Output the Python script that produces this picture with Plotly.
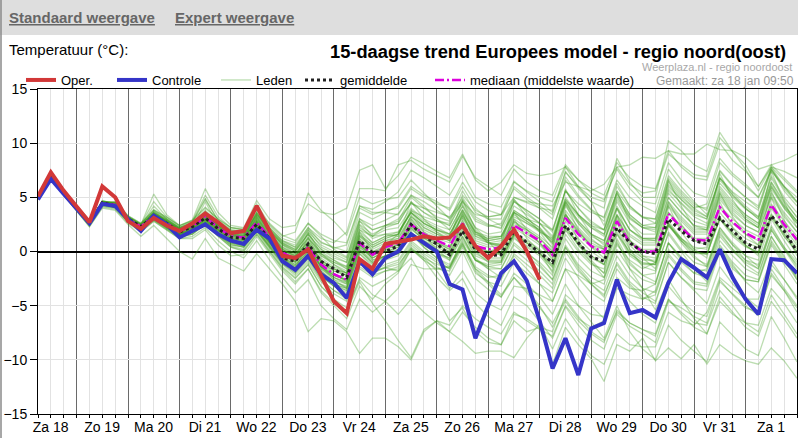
import pandas as pd
import plotly.graph_objects as go

# ---------------- data ----------------
tijden = pd.date_range("2025-01-18 06:00", periods=60, freq="6h")
dag_grenzen = pd.date_range("2025-01-19", "2025-02-02", freq="D")
dag_labels = ["Za 18", "Zo 19", "Ma 20", "Di 21", "Wo 22", "Do 23", "Vr 24", "Za 25",
              "Zo 26", "Ma 27", "Di 28", "Wo 29", "Do 30", "Vr 31", "Za 1"]
y_ticks = [-15, -10, -5, 0, 5, 10, 15]

oper = [5.1, 7.3, 5.6, 4.1, 2.7, 6.0, 5.0, 2.8, 2.1, 3.1, 2.4, 1.9, 2.6, 3.5, 2.7, 1.7,
        1.9, 4.2, 1.9, -0.4, -0.6, 0.2, -2.2, -4.6, -5.7, -0.7, -1.6, 0.7, 0.9, 1.1,
        1.4, 1.2, 1.3, 2.4, 0.5, -0.6, 0.5, 2.0, 0.0, -2.6]

controle = [4.8, 6.7, 5.3, 4.0, 2.6, 4.4, 4.2, 3.0, 1.9, 3.3, 2.5, 1.3, 1.9, 2.5, 1.6, 1.0,
            0.7, 2.0, 1.2, -0.9, -1.7, -0.4, -2.1, -2.9, -4.3, -0.9, -2.1, -0.6, 0.0, 1.6,
            0.8, 0.0, -3.0, -3.5, -8.0, -4.9, -2.0, -0.9, -2.7, -6.4, -10.8, -8.0, -11.4, -7.1,
            -6.6, -2.6, -5.7, -5.4, -6.1, -2.9, -0.7, -1.5, -2.4, 0.2, -2.4, -4.4, -5.8, -0.7,
            -0.8, -2.0]

gemiddelde = [5.0, 7.0, 5.4, 4.0, 2.6, 4.5, 4.2, 3.0, 2.3, 3.2, 2.6, 1.8, 2.3, 3.1, 2.1, 1.3,
              1.2, 2.5, 1.2, -0.6, -0.9, 0.7, -0.9, -1.6, -2.4, 1.0, -0.1, 0.0, 0.5, 2.5,
              1.4, 0.7, -0.3, 1.9, 0.2, -0.4, -0.3, 1.9, 0.8, -0.1, -1.0, 2.4, 0.8, -0.5,
              -0.9, 2.2, 0.8, 0.0, -0.2, 3.0, 1.9, 1.0, 0.7, 3.1, 1.9, 0.8, 0.2, 3.3, 1.9, 0.0]

mediaan = [5.0, 7.0, 5.4, 4.0, 2.6, 4.5, 4.3, 3.0, 2.3, 3.3, 2.6, 1.9, 2.3, 3.2, 2.2, 1.4,
           1.3, 2.7, 1.3, -0.1, -0.7, 0.4, -1.2, -2.1, -2.6, 0.8, -0.3, 0.4, 0.8, 2.5,
           1.6, 1.0, 0.5, 2.6, 0.5, 0.2, 0.4, 2.4, 1.7, 1.0, -0.3, 3.1, 1.6, 0.5,
           -0.1, 2.8, 0.8, 0.0, 0.0, 3.5, 2.2, 1.1, 1.0, 4.1, 2.7, 1.7, 1.1, 4.3, 2.5, 1.1]

leden = [
    [5.1, 7.2, 5.5, 4.1, 2.8, 4.3, 4.6, 3.3, 2.6, 3.9, 3.1, 2.4, 2.9, 4.1, 3.0, 2.2, 2.1, 3.9, 2.6, 1.5,
     1.0, 2.6, 1.4, 0.2, -0.5, 3.0, 2.4, 2.9, 3.5, 5.2, 4.6, 3.8, 3.1, 5.0, 3.2, 2.5, 2.1, 4.6, 3.8, 3.0,
     2.0, 5.6, 4.0, 2.6, 2.0, 5.2, 3.1, 2.2, 1.8, 5.6, 4.5, 3.4, 3.0, 6.3, 5.0, 3.9, 3.2, 6.8, 4.8, 3.1],
    [4.9, 6.9, 5.3, 3.9, 2.5, 4.2, 4.0, 2.8, 2.0, 3.0, 2.3, 1.4, 1.6, 2.6, 1.5, 0.8, 0.5, 2.0, 0.6, -0.9,
     -1.8, -0.6, -2.3, -3.2, -4.0, -0.8, -2.0, -1.5, -1.2, 0.3, -0.8, -2.4, -3.6, -2.5, -4.8, -6.0, -6.8, -4.2, -5.0, -6.5,
     -8.0, -5.1, -6.8, -8.2, -9.0, -5.8, -6.9, -7.6, -8.4, -4.6, -5.2, -6.0, -6.6, -2.8, -3.9, -5.0, -5.9, -2.0, -3.6, -5.2],
    [5.0, 7.0, 5.4, 4.0, 2.4, 4.4, 4.1, 2.8, 2.0, 3.1, 2.4, 1.5, 1.9, 2.8, 1.8, 0.9, 0.6, 2.2, 0.8, -0.6,
     -1.3, 0.0, -1.8, -2.8, -3.3, 0.1, -1.1, -0.6, -0.2, 1.6, 0.6, -0.1, -0.6, 1.8, -0.4, -0.9, -0.9, 1.6, 0.8, 0.1,
     -1.3, 2.4, 0.7, -0.4, -1.2, 2.1, -0.2, -1.1, -1.2, 2.8, 1.2, 0.0, -0.3, 3.2, 1.6, 0.5, -0.1, 3.5, 1.4, -0.1],
    [5.2, 7.1, 5.6, 4.2, 2.9, 4.6, 4.5, 3.2, 2.5, 4.6, 3.2, 2.3, 2.8, 5.2, 3.2, 2.2, 2.0, 3.6, 2.2, 1.0,
     0.4, 2.0, 0.9, 0.3, 0.6, 4.2, 3.9, 4.6, 5.5, 7.5, 6.8, 6.0, 5.2, 7.2, 5.0, 4.4, 4.1, 6.5, 5.5, 4.6,
     3.6, 6.9, 5.2, 3.9, 3.1, 6.3, 4.2, 3.1, 3.0, 6.8, 5.4, 4.2, 4.0, 7.5, 6.1, 5.0, 4.2, 7.8, 6.0, 4.6],
    [4.8, 6.8, 5.2, 3.8, 2.3, 4.1, 3.9, 2.6, 1.8, 2.8, 2.0, 1.2, 1.2, 2.0, 0.6, -0.4, -0.3, 1.4, -0.2, -1.8,
     -3.0, -1.6, -3.8, -5.0, -6.2, -3.2, -4.4, -3.0, -2.0, 0.2, -0.6, -1.2, -1.5, 1.2, -0.8, -1.2, -1.0, 1.5, 0.5, -0.2,
     -1.5, 2.0, 0.2, -1.0, -2.0, 1.2, -1.0, -2.2, -2.8, 0.8, -0.5, -1.6, -2.2, 1.4, 0.0, -1.0, -1.6, 2.0, 0.2, -1.2],
    [5.0, 7.1, 5.4, 4.1, 2.7, 4.5, 4.4, 3.1, 2.4, 3.5, 2.8, 2.1, 2.6, 3.6, 2.6, 1.8, 1.7, 3.2, 1.9, 0.7,
     0.1, 1.6, 0.2, -0.6, -1.0, 2.5, 1.6, 2.2, 2.6, 4.5, 3.6, 3.0, 2.4, 4.6, 2.8, 2.3, 2.6, 5.0, 4.5, 4.0,
     3.8, 7.3, 6.0, 5.0, 4.6, 7.8, 6.2, 5.4, 5.6, 9.0, 8.0, 7.1, 6.9, 10.5, 9.2, 8.0, 6.0, 7.8, 7.4, 6.8],
    [4.9, 6.9, 5.3, 3.9, 2.5, 4.3, 4.1, 2.9, 2.1, 3.0, 2.2, 1.5, 1.8, 2.6, 1.5, 0.6, 0.4, 1.9, 0.3, -1.2,
     -2.2, -1.0, -2.8, -3.9, -4.6, -1.6, -2.4, -1.8, -1.4, 0.6, -0.4, -1.4, -2.2, 0.0, -2.5, -3.5, -4.2, -2.0, -3.0, -4.2,
     -5.8, -3.0, -5.0, -6.5, -8.0, -5.0, -7.4, -9.0, -10.0, -6.8, -8.2, -9.2, -10.2, -6.5, -7.8, -9.0, -9.6, -6.0, -8.0, -10.2],
    [5.1, 7.0, 5.4, 4.0, 2.6, 4.7, 4.3, 2.9, 2.2, 3.5, 2.6, 1.7, 2.1, 3.6, 2.2, 1.2, 1.0, 3.2, 1.3, -0.3,
     -1.0, 1.3, -1.0, -2.0, -2.8, 1.8, 0.0, 0.4, 0.6, 3.4, 1.8, 0.8, 0.2, 3.6, 0.6, -0.2, -0.2, 3.6, 2.0, 0.8,
     -0.8, 4.4, 2.0, 0.4, -0.6, 4.0, 1.1, -0.4, -0.6, 4.6, 2.5, 1.0, 0.6, 5.4, 3.2, 1.6, 0.6, 5.6, 2.9, 0.8],
    [5.0, 7.1, 5.5, 4.1, 2.7, 4.4, 4.3, 3.0, 2.4, 4.2, 3.0, 2.2, 2.7, 4.9, 2.8, 2.0, 1.9, 4.4, 2.5, 1.4,
     1.8, 5.4, 3.8, 2.8, 1.5, 5.0, 4.4, 4.8, 5.0, 6.6, 5.4, 4.2, 3.0, 4.4, 2.2, 1.0, -0.5, 1.4, 0.0, -1.2,
     -2.6, 0.4, -1.6, -3.0, -4.0, -1.2, -3.0, -4.2, -4.8, -1.0, -2.4, -3.4, -3.6, 0.0, -1.6, -2.6, -2.8, 0.8, -1.0, -2.2],
    [5.1, 7.1, 5.5, 4.0, 2.6, 4.5, 4.2, 3.0, 2.3, 3.4, 2.7, 2.0, 2.4, 3.4, 2.4, 1.6, 1.5, 3.0, 1.6, 0.3,
     -0.4, 0.8, -0.8, -1.6, -2.0, 1.5, 0.6, 1.2, 1.6, 3.8, 2.8, 2.2, 1.6, 3.9, 1.8, 1.4, 1.4, 3.8, 3.0, 2.2,
     1.0, 4.6, 3.2, 2.2, 1.6, 4.8, 3.0, 2.2, 2.2, 6.0, 4.8, 3.8, 3.2, 6.8, 5.5, 4.6, 3.8, 7.6, 5.8, 4.5],
    [4.9, 6.9, 5.3, 3.9, 2.5, 4.4, 4.2, 2.9, 2.2, 3.1, 2.4, 1.6, 2.0, 3.0, 1.9, 1.0, 0.8, 2.3, 0.9, -0.5,
     -1.4, -0.2, -2.0, -3.0, -3.6, -0.8, -1.8, -1.5, -1.8, -0.6, -2.6, -4.2, -6.4, -5.2, -7.4, -8.4, -8.6, -5.8, -6.2, -7.0,
     -7.4, -4.0, -5.0, -5.8, -6.0, -2.4, -3.4, -3.6, -3.0, 0.8, -0.6, -1.6, -1.8, 1.6, 0.2, -0.8, -1.2, 2.2, 0.4, -1.0],
    [5.0, 6.9, 5.3, 4.0, 2.6, 4.5, 4.2, 2.9, 2.3, 3.3, 2.6, 1.9, 2.3, 3.3, 2.3, 1.5, 1.3, 2.6, 1.2, -0.2,
     -0.8, 0.4, -1.4, -2.4, -2.9, 0.6, -0.4, 0.6, 1.6, 3.8, 3.2, 2.8, 2.6, 5.2, 3.8, 3.2, 3.4, 6.4, 5.6, 5.0,
     4.6, 7.8, 6.6, 5.8, 5.2, 8.2, 6.8, 6.0, 5.8, 9.3, 7.8, 6.8, 6.6, 10.0, 8.4, 7.4, 6.0, 8.0, 6.8, 5.6],
    [5.0, 7.0, 5.4, 4.0, 2.6, 4.5, 4.3, 3.0, 2.3, 3.2, 2.5, 1.8, 2.2, 3.0, 2.0, 1.2, 1.0, 2.4, 1.0, -0.4,
     -1.0, 0.2, -1.4, -2.2, -2.6, 0.4, -0.6, 0.0, 0.4, 2.0, 1.2, 0.6, 0.0, 1.8, 0.2, -0.4, -0.2, 1.6, 1.0, 0.2,
     -1.0, 2.0, 0.8, -0.4, -1.2, 1.6, 0.0, -0.8, -0.8, 2.4, 1.2, 0.4, 0.2, 3.0, 1.8, 0.8, 0.4, 3.2, 1.6, 0.4],
    [5.0, 6.9, 5.4, 4.0, 2.5, 4.4, 4.1, 2.8, 2.0, 2.9, 2.1, 1.3, 1.6, 2.5, 1.4, 0.4, 0.0, 1.6, 0.0, -1.5,
     -2.5, -1.2, -3.2, -4.4, -5.2, -2.6, -4.0, -4.6, -5.8, -4.4, -5.6, -6.6, -7.4, -5.6, -7.0, -8.0, -8.6, -6.4, -7.4, -7.0,
     -10.4, -7.0, -8.6, -9.9, -12.0, -8.6, -9.2, -8.0, -10.1, -8.9, -9.9, -8.6, -10.4, -8.6, -9.5, -10.1, -10.4, -8.9, -10.1, -11.7],
    [5.1, 7.0, 5.5, 4.1, 2.7, 4.6, 4.4, 3.1, 2.4, 3.5, 2.8, 2.0, 2.5, 3.6, 2.5, 1.7, 1.6, 3.4, 1.9, 0.6,
     0.0, 1.6, -0.2, -1.0, -1.4, 2.4, 1.2, 1.6, 1.8, 3.6, 2.6, 2.0, 1.4, 3.8, 1.6, 1.0, 1.2, 3.6, 2.8, 1.9,
     0.8, 4.6, 2.8, 1.6, 1.0, 4.2, 2.0, 1.2, 1.2, 5.0, 3.6, 2.4, 2.2, 5.6, 4.2, 3.2, 2.4, 6.0, 4.0, 2.6],
    [5.0, 7.0, 5.4, 4.0, 2.6, 4.4, 4.3, 3.0, 2.4, 3.6, 2.9, 2.1, 2.5, 3.6, 2.6, 1.8, 1.8, 3.4, 2.2, 1.0,
     0.6, 2.2, 1.2, 0.8, 1.8, 5.8, 5.8, 5.6, 8.0, 8.4, 7.6, 7.0, 6.4, 8.8, 6.8, 6.0, 5.2, 7.6, 6.4, 5.6,
     5.2, 8.0, 6.6, 5.4, 4.8, 7.6, 5.8, 4.6, 4.4, 8.2, 6.6, 5.4, 5.0, 8.6, 7.2, 6.2, 5.0, 7.4, 6.0, 5.0],
    [5.1, 7.1, 5.5, 4.1, 2.8, 4.6, 4.5, 3.2, 2.5, 5.3, 3.4, 2.4, 2.9, 5.8, 3.6, 2.4, 2.2, 4.7, 3.0, 2.2,
     2.4, 4.4, 3.6, 3.4, 4.0, 7.5, 8.0, 5.8, 7.0, 8.7, 8.1, 7.4, 6.8, 9.0, 6.6, 5.6, 6.4, 8.0, 7.2, 7.0,
     7.2, 7.8, 6.0, 4.6, 2.4, 5.4, 3.4, 2.4, 2.6, 6.4, 5.0, 4.0, 4.4, 8.2, 7.0, 6.0, 5.0, 7.6, 6.0, 4.6],
    [4.9, 6.9, 5.3, 3.9, 2.5, 4.4, 4.2, 2.9, 2.1, 3.1, 2.3, 1.6, 2.0, 2.9, 1.8, 1.0, 0.8, 2.2, 0.8, -0.6,
     -1.6, -0.4, -2.2, -3.2, -3.8, -0.8, -1.8, -1.2, -0.8, 1.0, 0.0, -0.8, -1.6, 0.8, -1.4, -2.2, -2.6, -0.2, -1.2, -2.2,
     -3.4, 0.0, -1.8, -3.0, -4.2, -1.0, -2.8, -3.8, -4.6, -1.0, -2.4, -3.6, -4.8, -1.4, -3.0, -4.2, -5.2, -1.6, -3.4, -5.0],
    [5.0, 7.0, 5.4, 4.0, 2.7, 4.6, 4.4, 3.1, 2.3, 3.3, 2.6, 1.9, 2.2, 3.2, 2.2, 1.4, 1.2, 2.6, 1.2, -0.2,
     -0.6, 0.6, -1.0, -1.8, -2.2, 1.0, 0.0, 0.6, 1.0, 2.8, 1.8, 1.2, 0.8, 2.8, 0.8, 0.4, 0.6, 2.6, 2.0, 1.2,
     0.0, 3.4, 2.0, 0.8, 0.2, 3.0, 1.0, 0.2, 0.2, 3.6, 2.4, 1.2, 1.2, 4.2, 3.0, 2.0, 1.4, 4.4, 2.8, 1.4],
    [4.9, 6.8, 5.2, 3.8, 2.4, 4.2, 4.0, 2.7, 1.9, 2.8, 2.0, 1.2, 1.4, 2.2, 1.0, 0.0, -0.6, 1.0, -0.8, -2.4,
     -3.8, -2.6, -5.0, -6.2, -7.2, -4.4, -5.6, -4.6, -3.4, -1.2, -1.6, -1.6, -1.4, 1.0, -0.8, -1.4, -1.2, 1.2, 0.4, -0.4,
     -1.8, 1.6, 0.0, -1.2, -1.6, 1.6, -0.4, -1.2, -1.2, 2.4, 1.0, 0.0, -0.2, 3.0, 1.4, 0.4, 0.0, 3.4, 1.6, 0.2],
    [4.8, 6.8, 5.2, 3.8, 2.3, 4.0, 3.8, 2.5, 1.4, 2.4, 1.2, 0.0, -0.7, 1.2, -0.6, -1.2, -1.8, -0.2, -1.6, -3.0,
     -4.6, -7.4, -6.2, -6.4, -7.4, -9.4, -8.0, -8.0, -8.8, -10.0, -7.4, -6.4, -6.8, -5.0, -6.2, -7.0, -7.6, -5.6, -6.4, -7.2,
     -7.8, -5.0, -6.4, -7.6, -8.4, -5.4, -6.6, -7.2, -7.8, -4.4, -5.8, -7.0, -7.6, -4.2, -5.6, -7.0, -7.8, -4.6, -6.2, -8.0],
    [5.0, 7.0, 5.4, 4.0, 2.6, 4.5, 4.3, 3.0, 2.3, 3.4, 2.7, 2.0, 2.4, 3.3, 2.3, 1.5, 1.4, 2.8, 1.4, 0.1,
     -0.4, 1.0, -0.4, -1.0, -1.6, 1.8, 0.8, 1.4, 1.6, 3.6, 2.2, 1.6, 1.0, 3.4, 1.4, 0.8, 0.6, 3.2, 2.6, 2.0,
     1.0, 4.8, 3.4, 2.4, 2.0, 5.6, 4.0, 3.2, 3.0, 7.0, 5.6, 4.4, 3.8, 7.4, 6.0, 5.0, 4.0, 7.6, 5.6, 4.2],
    [5.0, 6.9, 5.3, 3.9, 2.5, 4.3, 4.1, 2.8, 2.1, 3.0, 2.2, 1.4, 1.7, 2.6, 1.5, 0.5, 0.2, 1.8, 0.2, -1.4,
     -2.4, -1.2, -3.2, -4.4, -5.6, -2.8, -4.8, -6.4, -8.2, -9.8, -7.2, -6.4, -7.4, -8.3, -9.4, -9.2, -9.2, -9.8, -8.0, -6.7,
     -9.0, -6.2, -8.0, -9.6, -10.4, -7.6, -8.6, -8.8, -8.8, -5.6, -6.4, -6.8, -5.6, -2.4, -3.4, -4.4, -4.4, -1.2, -2.6, -4.2],
    [5.0, 7.0, 5.4, 4.0, 2.6, 4.4, 4.2, 2.9, 2.2, 3.2, 2.5, 1.7, 2.1, 3.0, 2.0, 1.1, 0.9, 2.4, 1.0, -0.5,
     -1.2, 0.0, -1.6, -2.6, -3.0, 0.2, -1.0, -0.4, -0.2, 1.8, 0.6, -0.2, -0.8, 1.4, -0.8, -1.4, -1.6, 0.8, -0.2, -1.0,
     -2.2, 1.2, -0.6, -1.8, -2.4, 0.8, -1.2, -2.2, -2.0, 1.8, 0.2, -1.0, -1.4, 2.2, 0.8, -0.4, -1.4, 2.4, 0.4, -1.4],
    [5.1, 7.1, 5.5, 4.1, 2.8, 4.6, 4.5, 3.2, 2.5, 3.8, 3.0, 2.2, 2.6, 3.8, 2.7, 1.9, 1.8, 3.6, 2.0, 0.8,
     0.2, 2.0, 0.4, -0.2, -0.8, 3.0, 2.0, 2.4, 2.8, 5.0, 4.0, 3.2, 2.8, 5.6, 3.6, 3.0, 3.0, 6.0, 5.0, 4.2,
     3.4, 7.4, 5.8, 4.6, 4.0, 8.6, 6.4, 5.0, 5.0, 10.2, 9.3, 8.0, 7.4, 11.0, 9.2, 7.6, 5.6, 7.8, 6.6, 5.4],
    [5.0, 7.0, 5.4, 4.0, 2.7, 4.5, 4.4, 3.1, 2.4, 3.4, 2.8, 2.1, 2.5, 3.4, 2.5, 1.8, 1.6, 3.0, 1.8, 0.6,
     -0.2, 1.2, 0.0, -0.8, -1.6, 2.0, 1.4, 2.4, 3.0, 4.4, 4.0, 3.6, 3.2, 4.6, 3.4, 3.2, 3.4, 5.0, 4.6, 4.4,
     4.2, 6.4, 6.0, 5.6, 6.2, 7.8, 8.0, 8.7, 8.6, 9.3, 9.0, 9.0, 9.9, 9.4, 9.3, 8.7, 7.6, 8.0, 8.4, 9.0],
    [4.9, 7.0, 5.3, 3.9, 2.5, 4.6, 4.2, 2.8, 2.1, 3.4, 2.5, 1.6, 2.0, 3.4, 2.0, 1.0, 0.6, 2.8, 1.0, -0.6,
     -1.6, 0.8, -1.4, -2.6, -3.4, 1.2, -0.8, -0.4, -0.2, 3.0, 1.4, 0.2, -0.8, 3.0, 0.0, -1.0, -1.0, 3.0, 1.2, 0.0,
     -2.0, 3.6, 1.0, -0.8, -2.0, 3.4, 0.2, -1.4, -1.8, 4.2, 1.8, 0.2, -0.6, 4.6, 2.2, 0.6, -0.4, 5.0, 2.0, -0.4],
    [5.0, 7.0, 5.4, 4.0, 2.6, 4.5, 4.3, 3.0, 2.3, 3.4, 2.7, 2.0, 2.4, 3.5, 2.5, 1.6, 1.5, 3.2, 1.7, 0.4,
     -0.3, 1.4, -0.4, -1.2, -1.8, 2.0, 0.8, 1.4, 1.8, 3.6, 2.6, 2.0, 1.6, 3.8, 1.6, 1.2, 1.4, 3.6, 2.8, 2.0,
     0.8, 4.4, 2.8, 1.6, 1.0, 4.0, 2.0, 1.0, 1.0, 4.6, 3.2, 2.0, 2.0, 5.2, 3.8, 2.8, 2.2, 5.4, 3.6, 2.2],
    [5.0, 6.9, 5.3, 3.9, 2.5, 4.4, 4.2, 2.8, 2.1, 3.1, 2.3, 1.5, 1.9, 2.8, 1.7, 0.8, 0.6, 2.1, 0.6, -0.9,
     -1.8, -0.4, -2.2, -3.2, -3.6, -0.2, -1.2, -0.4, 0.2, 2.2, 1.0, 0.2, -0.4, 1.8, -0.6, -1.6, -2.4, -0.4, -1.6, -3.0,
     -4.6, -1.6, -3.4, -5.0, -6.2, -3.0, -4.6, -5.8, -6.6, -3.2, -4.6, -5.6, -6.0, -2.6, -4.0, -5.2, -5.6, -2.2, -3.6, -5.6],
    [5.0, 7.0, 5.4, 4.0, 2.6, 4.5, 4.3, 3.0, 2.3, 3.3, 2.6, 1.9, 2.3, 3.2, 2.2, 1.4, 1.3, 2.7, 1.3, -0.1,
     -0.7, 0.4, -1.2, -2.1, -2.6, 0.8, -0.3, 0.4, 0.8, 2.6, 1.6, 1.0, 0.4, 2.6, 0.4, 0.0, 0.2, 2.4, 1.6, 0.8,
     -0.4, 3.2, 1.6, 0.4, -0.2, 2.8, 0.8, 0.0, 0.0, 3.6, 2.2, 1.0, 1.0, 4.0, 2.6, 1.6, 1.0, 4.2, 2.4, 1.0],
    [5.1, 7.1, 5.5, 4.1, 2.7, 4.6, 4.4, 3.1, 2.4, 3.6, 2.9, 2.1, 2.6, 3.7, 2.7, 1.9, 1.7, 3.4, 2.0, 0.8,
     0.2, 1.8, 0.6, 0.0, -0.6, 3.6, 3.0, 3.6, 4.2, 6.0, 5.2, 4.6, 3.8, 6.0, 4.0, 3.0, 2.4, 4.8, 3.6, 2.6,
     1.2, 4.6, 2.6, 1.2, 0.2, 3.2, 1.0, -0.4, -1.0, 2.6, 0.8, -0.6, -1.2, 2.2, 0.6, -0.8, -1.6, 2.0, 0.2, -1.6],
    [4.9, 6.9, 5.3, 3.9, 2.5, 4.4, 4.2, 2.9, 2.2, 3.2, 2.4, 1.6, 2.1, 3.0, 2.0, 1.1, 0.9, 2.4, 0.9, -0.5,
     -1.2, 0.0, -1.6, -2.4, -3.0, 0.4, -0.6, 0.0, 0.4, 2.4, 1.2, 0.6, 0.0, 2.2, 0.0, -0.6, -0.6, 1.8, 0.8, -0.2,
     -1.4, 2.4, 0.6, -1.0, -2.4, 1.0, -1.6, -3.4, -5.4, -2.6, -4.4, -6.2, -7.6, -4.6, -5.8, -6.6, -6.8, -3.4, -4.8, -6.6],
    [5.0, 7.0, 5.5, 4.1, 2.7, 4.5, 4.4, 3.1, 2.4, 3.5, 2.8, 2.0, 2.4, 3.4, 2.4, 1.6, 1.4, 2.9, 1.5, 0.2,
     -0.5, 0.8, -0.8, -1.6, -2.2, 1.4, 0.4, 1.0, 1.2, 3.2, 2.2, 1.6, 1.2, 3.4, 1.4, 1.0, 1.2, 3.6, 3.0, 2.6,
     2.0, 5.6, 4.4, 3.6, 3.2, 6.6, 5.0, 4.2, 3.6, 7.6, 6.0, 4.6, 3.4, 6.8, 5.2, 4.0, 3.0, 6.4, 4.4, 2.8],
    [5.0, 7.0, 5.4, 4.0, 2.6, 4.4, 4.2, 2.9, 2.2, 3.2, 2.5, 1.7, 2.1, 3.1, 2.0, 1.2, 1.0, 2.5, 1.1, -0.4,
     -1.0, 0.2, -1.4, -2.4, -2.8, 0.6, -0.6, 0.0, 0.2, 2.2, 1.0, 0.4, -0.2, 2.0, -0.2, -0.8, -0.8, 1.6, 0.8, -0.2,
     -1.2, 2.2, 0.6, -0.6, -1.2, 1.8, -0.2, -1.0, -1.2, 2.4, 1.0, -0.2, -0.2, 3.0, 1.6, 0.6, -0.2, 3.2, 1.4, 0.0],
    [4.9, 6.9, 5.3, 3.9, 2.5, 4.3, 4.1, 2.8, 2.0, 3.0, 2.2, 1.4, 1.8, 2.7, 1.6, 0.7, 0.4, 2.0, 0.4, -1.1,
     -2.0, -0.6, -2.6, -3.6, -4.4, -1.4, -2.2, -1.8, -1.6, 0.4, -0.6, -1.8, -3.4, -1.8, -3.8, -4.8, -5.4, -3.2, -3.4, -4.0,
     -4.6, -1.6, -2.2, -3.0, -2.6, 0.6, -0.8, -1.6, -1.0, 2.6, 1.2, 0.2, 0.4, 3.6, 2.2, 1.2, 0.6, 4.0, 2.2, 0.6],
    [5.1, 7.1, 5.5, 4.1, 2.7, 4.6, 4.5, 3.2, 2.5, 3.6, 2.9, 2.2, 2.6, 3.6, 2.6, 1.8, 1.7, 3.3, 1.9, 0.7,
     0.0, 1.6, 0.2, -0.4, -1.0, 2.8, 2.0, 2.4, 2.6, 4.6, 3.6, 2.8, 2.4, 4.8, 3.0, 2.4, 2.2, 4.6, 3.8, 3.0,
     1.8, 5.6, 4.0, 2.8, 2.0, 5.4, 3.4, 2.4, 2.2, 6.2, 4.8, 3.6, 3.0, 6.8, 5.4, 4.2, 3.2, 7.0, 5.0, 3.6],
    [4.9, 6.9, 5.3, 3.9, 2.4, 4.3, 4.1, 2.8, 2.0, 2.9, 2.1, 1.3, 1.6, 2.5, 1.4, 0.4, 0.1, 1.6, 0.0, -1.6,
     -2.8, -1.6, -3.6, -4.8, -5.6, -2.4, -3.2, -2.6, -1.8, 0.2, -0.8, -1.6, -1.8, 0.4, -2.0, -2.8, -3.2, -1.0, -2.0, -3.0,
     -3.8, -0.6, -2.4, -3.8, -4.6, -1.6, -3.2, -4.4, -4.0, -0.4, -1.8, -3.0, -3.2, 0.2, -1.4, -2.6, -2.8, 0.6, -1.2, -3.0],
    [5.2, 7.2, 5.6, 4.2, 2.9, 4.5, 4.6, 3.3, 2.6, 3.8, 3.2, 2.4, 2.8, 4.0, 3.0, 2.2, 2.0, 3.8, 2.4, 1.2,
     0.8, 2.6, 1.6, 1.0, 0.8, 4.2, 3.6, 3.6, 3.4, 5.2, 4.2, 3.0, 2.0, 4.2, 1.8, 0.8, 0.4, 2.8, 1.8, 0.8,
     -0.4, 3.4, 1.8, 0.6, 0.2, 3.4, 1.6, 0.8, 0.8, 4.4, 3.0, 1.8, 1.8, 5.0, 3.6, 2.4, 1.8, 5.2, 3.4, 1.8],
    [5.0, 7.0, 5.4, 4.0, 2.6, 4.5, 4.3, 3.0, 2.3, 3.4, 2.7, 1.9, 2.3, 3.3, 2.3, 1.5, 1.3, 2.8, 1.4, 0.0,
     -0.6, 0.6, -1.0, -1.8, -2.2, 1.2, 0.2, 0.8, 1.2, 3.0, 2.0, 1.4, 1.0, 3.2, 1.0, 0.6, 0.8, 3.0, 2.2, 1.4,
     0.4, 3.8, 2.2, 1.0, 0.4, 3.4, 1.4, 0.6, 0.6, 4.2, 2.8, 1.6, 1.6, 4.8, 3.4, 2.4, 1.8, 5.0, 3.2, 1.8],
    [5.0, 6.9, 5.3, 3.9, 2.5, 4.4, 4.1, 2.8, 2.1, 3.0, 2.3, 1.5, 1.9, 2.8, 1.7, 0.8, 0.5, 2.0, 0.5, -1.0,
     -1.6, -0.2, -2.0, -3.0, -3.4, 0.0, -1.0, -0.4, 0.0, 1.8, 0.4, -0.6, -1.4, 0.6, -1.6, -2.8, -4.0, -2.4, -3.8, -5.2,
     -6.6, -4.4, -6.0, -7.4, -8.2, -5.6, -6.6, -7.2, -7.6, -4.4, -5.6, -6.6, -6.8, -3.6, -5.0, -6.6, -7.4, -4.0, -5.8, -7.6],
    [5.1, 7.1, 5.5, 4.1, 2.8, 4.6, 4.5, 3.2, 2.5, 3.7, 3.0, 2.2, 2.7, 4.8, 2.9, 2.0, 1.8, 3.5, 2.1, 0.9,
     0.4, 2.2, 0.8, 0.4, 0.0, 4.0, 3.4, 3.8, 4.0, 5.8, 5.0, 4.4, 4.0, 6.4, 4.6, 3.8, 3.4, 5.8, 4.8, 4.0,
     3.0, 6.6, 5.0, 3.8, 2.8, 6.0, 4.2, 3.2, 2.6, 6.6, 5.2, 4.0, 3.2, 6.6, 5.2, 4.0, 3.0, 6.4, 4.6, 3.2],
    [4.9, 6.9, 5.3, 3.9, 2.5, 4.4, 4.2, 2.9, 2.1, 3.1, 2.4, 1.6, 2.0, 2.9, 1.9, 1.0, 0.8, 2.3, 0.8, -0.7,
     -1.4, -0.2, -1.8, -2.8, -3.2, 0.2, -0.8, -0.4, 0.0, 1.6, 0.6, -0.2, -0.6, 1.4, -0.8, -1.6, -1.6, 0.6, -0.4, -1.4,
     -2.6, 0.6, -1.2, -2.4, -3.0, 0.2, -1.6, -2.6, -3.0, 0.8, -0.8, -2.0, -2.4, 1.0, -0.4, -1.6, -2.2, 1.4, -0.6, -2.4],
    [5.0, 7.0, 5.4, 4.0, 2.6, 4.5, 4.3, 3.0, 2.3, 3.4, 2.6, 1.9, 2.3, 3.3, 2.3, 1.5, 1.3, 2.7, 1.3, -0.1,
     -0.6, 0.6, -0.8, -1.6, -2.0, 1.4, 0.4, 1.0, 1.4, 3.2, 2.4, 1.8, 1.2, 3.2, 1.2, 0.8, 1.0, 3.4, 2.6, 1.8,
     1.2, 4.8, 3.4, 2.4, 1.6, 5.0, 3.2, 2.2, 2.0, 5.8, 4.4, 3.2, 2.6, 6.0, 4.6, 3.4, 2.6, 6.2, 4.2, 2.8],
    [5.0, 7.0, 5.4, 4.0, 2.6, 4.5, 4.3, 3.0, 2.2, 3.3, 2.6, 1.8, 2.2, 3.1, 2.1, 1.3, 1.1, 2.6, 1.1, -0.3,
     -0.9, 0.3, -1.3, -2.2, -2.7, 0.7, -0.4, 0.2, 0.6, 2.4, 1.4, 0.8, 0.2, 2.4, 0.2, -0.4, 0.0, 2.2, 1.4, 0.6,
     -0.6, 2.8, 1.2, 0.0, -0.8, 2.2, 0.2, -0.6, -1.0, 2.6, 1.0, -0.4, -1.4, 1.8, 0.2, -1.2, -2.0, 1.4, -0.4, -2.6],
    [5.0, 6.9, 5.3, 3.9, 2.5, 4.4, 4.2, 2.9, 2.2, 3.1, 2.4, 1.6, 2.0, 2.9, 1.8, 0.9, 0.7, 2.2, 0.7, -0.8,
     -1.6, -0.4, -2.0, -3.0, -3.4, -0.2, -1.4, -0.8, -0.4, 1.6, 0.4, -0.6, -1.2, 0.8, -1.8, -3.0, -4.2, -2.4, -3.6, -5.0,
     -7.0, -4.6, -6.2, -7.0, -6.4, -3.4, -4.0, -4.4, -3.6, 0.2, -1.0, -2.0, -1.6, 2.0, 0.6, -0.4, -0.8, 3.0, 1.0, -0.8],
    [5.1, 7.0, 5.5, 4.1, 2.7, 4.5, 4.4, 3.1, 2.4, 3.5, 2.8, 2.0, 2.5, 3.5, 2.5, 1.7, 1.5, 3.1, 1.7, 0.4,
     -0.2, 1.2, -0.2, -0.8, -1.4, 2.2, 1.4, 2.0, 2.2, 4.0, 3.0, 2.4, 2.0, 4.2, 2.2, 1.6, 1.8, 4.2, 3.4, 2.6,
     1.4, 5.0, 3.4, 2.2, 1.4, 4.6, 2.6, 1.6, 1.6, 5.4, 4.0, 2.8, 2.4, 5.8, 4.4, 3.4, 2.6, 6.0, 4.2, 2.8],
    [4.9, 6.9, 5.3, 3.9, 2.5, 4.4, 4.1, 2.8, 2.1, 3.0, 2.2, 1.4, 1.8, 2.7, 1.6, 0.6, 0.4, 1.9, 0.4, -1.1,
     -2.0, -0.8, -2.6, -3.6, -4.2, -1.0, -2.0, -1.4, -1.0, 0.8, -0.2, -1.0, -1.6, 0.6, -1.6, -2.4, -2.2, 0.2, -0.8, -1.8,
     -3.0, 0.4, -1.4, -2.8, -3.6, -0.4, -2.2, -3.4, -3.8, -0.2, -1.6, -2.8, -3.0, 0.6, -1.0, -2.2, -2.6, 1.0, -0.8, -2.6],
    [5.0, 7.0, 5.4, 4.1, 2.7, 4.5, 4.4, 3.1, 2.3, 3.5, 2.7, 2.0, 2.4, 3.4, 2.4, 1.6, 1.4, 2.9, 1.5, 0.2,
     -0.4, 0.9, -0.6, -1.4, -2.0, 1.6, 0.6, 1.2, 1.6, 3.6, 2.6, 2.0, 1.6, 3.6, 1.8, 1.2, 1.4, 3.8, 3.0, 2.2,
     0.6, 4.2, 2.6, 1.4, 0.8, 4.0, 2.0, 1.2, 1.2, 5.0, 3.6, 2.4, 2.0, 5.4, 4.0, 3.0, 2.2, 5.8, 4.0, 2.6],
    [5.0, 7.0, 5.4, 4.0, 2.6, 4.4, 4.2, 2.9, 2.2, 3.2, 2.5, 1.8, 2.2, 3.1, 2.1, 1.3, 1.1, 2.5, 1.1, -0.3,
     -0.9, 0.2, -1.4, -2.2, -2.6, 0.6, -0.4, 0.2, 0.6, 2.4, 1.4, 0.8, 0.4, 2.6, 0.6, 0.0, 0.4, 2.8, 2.0, 1.2,
     0.0, 3.4, 1.8, 0.6, -0.2, 2.6, 0.6, -0.6, -1.6, 1.6, 0.0, -1.6, -2.8, 0.4, -1.2, -2.8, -3.8, -0.8, -2.6, -4.4],
    [5.1, 7.1, 5.5, 4.1, 2.6, 4.7, 4.4, 3.0, 2.2, 3.7, 2.8, 1.9, 2.2, 4.6, 2.4, 1.4, 1.2, 3.6, 1.8, 0.2,
     -0.6, 1.8, -0.2, -1.2, -2.0, 2.8, 1.4, 1.6, 1.4, 4.6, 3.0, 1.8, 1.0, 4.8, 2.0, 0.8, 0.6, 4.8, 3.2, 1.8,
     0.2, 5.8, 3.4, 1.6, 0.6, 5.6, 2.6, 1.2, 1.0, 6.6, 4.2, 2.2, 2.0, 7.2, 4.8, 3.0, 2.2, 7.4, 4.6, 2.2],
]

# ---------------- styling ----------------
FONT = "Liberation Sans, Arial, sans-serif"
W, H = 798, 438
ML, MR, MT, MB = 38, 1, 89, 24
PW, PH = W - ML - MR, H - MT - MB


def px(xp):
    return (xp - ML) / PW


def py(yp):
    return (H - MB - yp) / PH


fig = go.Figure()

for i, rij in enumerate(leden):
    fig.add_trace(go.Scatter(
        x=tijden, y=rij, mode="lines", name="Leden",
        line=dict(color="rgba(60,155,25,0.34)", width=1.3),
        legend="legend3", legendgroup="leden", showlegend=(i == 0),
        hoverinfo="skip"))

fig.add_trace(go.Scatter(x=tijden, y=mediaan, mode="lines", name="mediaan (middelste waarde)",
                         line=dict(color="#dd00dd", width=2.5, dash="9px,3px,2px,3px"),
                         legend="legend5"))
fig.add_trace(go.Scatter(x=tijden, y=gemiddelde, mode="lines", name="gemiddelde",
                         line=dict(color="#222222", width=3, dash="dot"),
                         legend="legend4"))
fig.add_trace(go.Scatter(x=tijden, y=controle, mode="lines", name="Controle",
                         line=dict(color="#3535c8", width=4),
                         legend="legend2"))
fig.add_trace(go.Scatter(x=tijden[:len(oper)], y=oper, mode="lines", name="Oper.",
                         line=dict(color="#d23838", width=4),
                         legend="legend"))

day_px = PW / ((tijden[-1] - tijden[0]).total_seconds() / 86400)

fig.update_xaxes(
    type="date",
    range=[tijden[0], tijden[-1]],
    tickmode="array", tickvals=dag_grenzen, ticktext=dag_labels,
    ticklabelshift=int(round(-day_px / 2)), ticklabelstandoff=-3,
    showgrid=True, gridcolor="#6a6a6a", gridwidth=1,
    ticks="outside", ticklen=3, tickcolor="black",
    minor=dict(tick0="2025-01-18", dtick=6 * 3600 * 1000, showgrid=True,
               gridcolor="#e2e2e2", gridwidth=1, ticks="outside", ticklen=3,
               tickcolor="black"),
    showline=True, linecolor="black", linewidth=1, mirror=True,
    tickfont=dict(family=FONT, size=14, color="black"),
    zeroline=False, fixedrange=True,
)
fig.update_yaxes(
    range=[-15, 15], tickmode="array", tickvals=y_ticks,
    showgrid=True, gridcolor="#e2e2e2", gridwidth=1,
    zeroline=True, zerolinecolor="black", zerolinewidth=2,
    showline=True, linecolor="black", linewidth=1, mirror=True,
    ticks="outside", ticklen=7, tickcolor="black",
    tickfont=dict(family=FONT, size=14, color="black"),
    fixedrange=True,
)

legend_common = dict(orientation="h", yanchor="middle", y=py(80), xanchor="left",
                     bgcolor="rgba(0,0,0,0)", borderwidth=0,
                     font=dict(family=FONT, size=13, color="black"))
fig.update_layout(
    width=W, height=H,
    margin=dict(l=ML, r=MR, t=MT, b=MB, autoexpand=False),
    paper_bgcolor="white", plot_bgcolor="white",
    font=dict(family=FONT, color="black"),
    showlegend=True,
    legend=dict(x=px(21), **legend_common),
    legend2=dict(x=px(112), **legend_common),
    legend3=dict(x=px(216), **legend_common),
    legend4=dict(x=px(300), **legend_common),
    legend5=dict(x=px(430), **legend_common),
    hovermode=False,
)

# header band and frame
fig.add_shape(type="rect", xref="paper", yref="paper", x0=px(0), x1=px(W), y0=py(35), y1=py(0),
              fillcolor="#dedede", line=dict(width=0), layer="below")
fig.add_shape(type="line", xref="paper", yref="paper", x0=px(1), x1=px(1), y0=py(H), y1=py(0),
              line=dict(color="#8a8a8a", width=1.5))

annos = [
    dict(text="<u><b>Standaard weergave</b></u>", x=px(7), y=py(18), xanchor="left",
         font=dict(size=15, color="#666666")),
    dict(text="<u><b>Expert weergave</b></u>", x=px(173), y=py(18), xanchor="left",
         font=dict(size=15, color="#666666")),
    dict(text="Temperatuur (°C):", x=px(7), y=py(50), xanchor="left",
         font=dict(size=15, color="black")),
    dict(text="<b>15-daagse trend Europees model - regio noord(oost)</b>", x=px(788), y=py(51),
         xanchor="right", font=dict(size=18.3, color="black")),
    dict(text="Weerplaza.nl - regio noordoost", x=px(794), y=py(67), xanchor="right",
         font=dict(size=11, color="#a8a8a8")),
    dict(text="Gemaakt: za 18 jan 09:50", x=px(796), y=py(81), xanchor="right",
         font=dict(size=12, color="#999999")),
]
for a in annos:
    a["font"]["family"] = FONT
    fig.add_annotation(xref="paper", yref="paper", yanchor="middle", showarrow=False, **a)

fig.write_html("out.html", include_plotlyjs=True, config={"displayModeBar": False},
               post_script="document.body.style.margin='0';document.body.style.overflow='hidden';")
